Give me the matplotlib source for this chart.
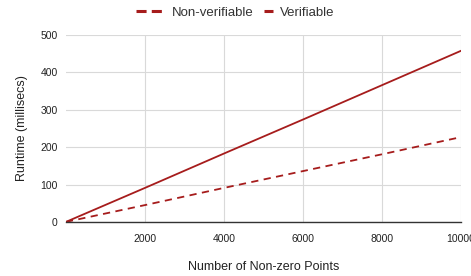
import numpy as np
import matplotlib.pyplot as plt
from matplotlib.lines import Line2D

plt.rcParams['font.family'] = ['Liberation Sans', 'DejaVu Sans']

# data
points = [0, 2000, 4000, 6000, 8000, 10000]
verifiable = [0, 91, 183, 274, 366, 458]
non_verifiable = [0, 45, 91, 136, 181, 227]
xticks = [2000, 4000, 6000, 8000, 10000]
yticks = [0, 100, 200, 300, 400, 500]

red = '#a61c1c'

fig = plt.figure(figsize=(4.71, 2.76), dpi=100)
ax = fig.add_axes([0.140, 0.196, 0.839, 0.677])

ax.plot(points, non_verifiable, color=red, lw=1.3, ls=(0, (4, 3)))
ax.plot(points, verifiable, color=red, lw=1.3)

ax.set_xlim(0, 10000)
ax.set_ylim(0, 500)
ax.set_xticks(xticks)
ax.set_yticks(yticks)
ax.grid(True, color='#d9d9d9', lw=0.8)
ax.set_axisbelow(True)
for s in ['top', 'right', 'left']:
    ax.spines[s].set_visible(False)
ax.spines['bottom'].set_color('#333333')
ax.spines['bottom'].set_linewidth(1.0)
ax.tick_params(length=0, labelsize=7.5, colors='#222222', pad=6)
ax.tick_params(axis='x', pad=9)

ax.set_xlabel('Number of Non-zero Points', fontsize=9, color='#222222', labelpad=12)
ax.set_ylabel('Runtime (millisecs)', fontsize=9, color='#222222', labelpad=9)

# two legends so each key gets its own length (long dashed key, short solid key)
h_nv = Line2D([], [], color=red, lw=2.2, ls=(0, (3.3, 1.7)), dash_capstyle='butt')
h_v = Line2D([], [], color=red, lw=2.2, solid_capstyle='butt')
leg_kw = dict(loc='center left', frameon=False, fontsize=9.5, borderpad=0,
              borderaxespad=0, handletextpad=0.6)
leg1 = fig.legend([h_nv], ['Non-verifiable'], bbox_to_anchor=(136 / 471, 0.953),
                  handlelength=2.1, **leg_kw)
leg2 = fig.legend([h_v], ['Verifiable'], bbox_to_anchor=(264 / 471, 0.953),
                  handlelength=0.7, handletextpad=0.5,
                  **{k: v for k, v in leg_kw.items() if k != 'handletextpad'})
for leg in (leg1, leg2):
    for t in leg.get_texts():
        t.set_color('#333333')

fig.savefig('out.png', dpi=100)
